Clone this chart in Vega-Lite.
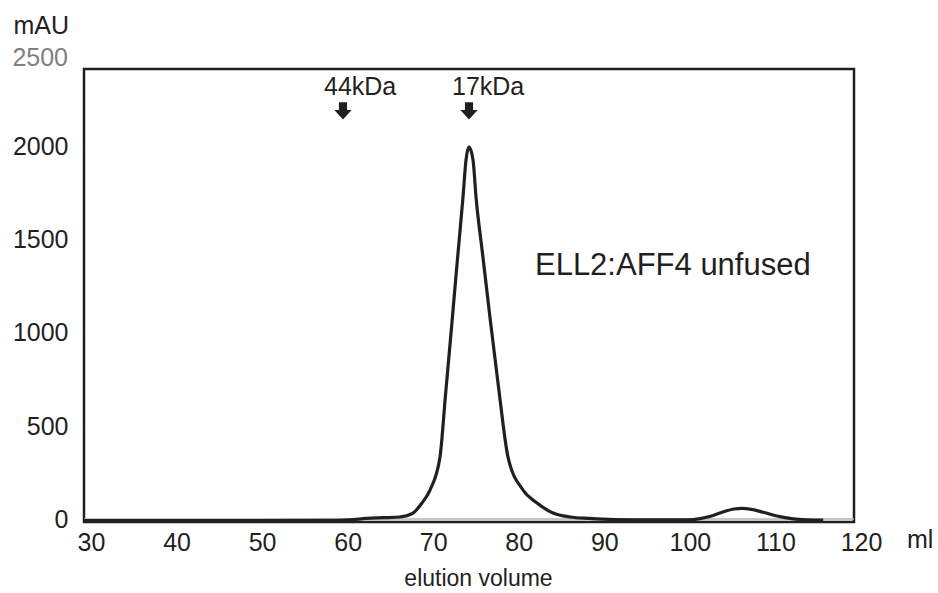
{
  "$schema": "https://vega.github.io/schema/vega-lite/v6.json",
  "width": 770,
  "height": 453,
  "autosize": {"type": "none"},
  "padding": {"left": 84, "top": 69, "right": 84, "bottom": 71},
  "background": "white",
  "config": {
    "view": {"stroke": "#231f20", "strokeWidth": 2.5},
    "font": "Liberation Sans",
    "axis": {"labelFont": "Liberation Sans", "titleFont": "Liberation Sans", "labelColor": "#231f20", "titleColor": "#231f20"}
  },
  "datasets": {
    "trace": [
      {"volume": 30, "mAU": -8},
      {"volume": 40, "mAU": -8},
      {"volume": 50, "mAU": -8},
      {"volume": 58, "mAU": -7},
      {"volume": 61, "mAU": -4},
      {"volume": 63, "mAU": 3},
      {"volume": 65, "mAU": 7},
      {"volume": 66.9, "mAU": 11},
      {"volume": 68.45, "mAU": 32},
      {"volume": 69.5, "mAU": 86},
      {"volume": 70.44, "mAU": 156},
      {"volume": 71.61, "mAU": 333},
      {"volume": 72.25, "mAU": 665},
      {"volume": 72.9, "mAU": 1000},
      {"volume": 73.6, "mAU": 1370},
      {"volume": 74.3, "mAU": 1731},
      {"volume": 74.65, "mAU": 1930},
      {"volume": 75.0, "mAU": 2000},
      {"volume": 75.47, "mAU": 1930},
      {"volume": 75.82, "mAU": 1731},
      {"volume": 76.6, "mAU": 1420},
      {"volume": 77.5, "mAU": 1065},
      {"volume": 78.5, "mAU": 690},
      {"volume": 79.56, "mAU": 333},
      {"volume": 81.31, "mAU": 156},
      {"volume": 82.95, "mAU": 86},
      {"volume": 84.82, "mAU": 32},
      {"volume": 86.8, "mAU": 11},
      {"volume": 89.1, "mAU": 3},
      {"volume": 92, "mAU": -3},
      {"volume": 96, "mAU": -5},
      {"volume": 100, "mAU": -5},
      {"volume": 101.2, "mAU": -3},
      {"volume": 103, "mAU": 12},
      {"volume": 104.5, "mAU": 35},
      {"volume": 106, "mAU": 54},
      {"volume": 106.9, "mAU": 57},
      {"volume": 108, "mAU": 52},
      {"volume": 109.5, "mAU": 35},
      {"volume": 111, "mAU": 16},
      {"volume": 112.9, "mAU": 1},
      {"volume": 114.5, "mAU": -4},
      {"volume": 116.4, "mAU": -6}
    ],
    "markers": [
      {"label": "44kDa", "volume": 60.27, "arrowY": 2194, "textX": 58.05, "textY": 2280},
      {"label": "17kDa", "volume": 75.0, "arrowY": 2194, "textX": 73.01, "textY": 2280}
    ]
  },
  "layer": [
    {
      "data": {"values": [{"mAU": 0}]},
      "mark": {"type": "rule", "color": "#b3b3b3", "strokeWidth": 1.5},
      "encoding": {"y": {"field": "mAU", "type": "quantitative"}}
    },
    {
      "data": {"name": "trace"},
      "mark": {"type": "line", "color": "#231f20", "strokeWidth": 3.2, "interpolate": "monotone"},
      "encoding": {
        "x": {
          "field": "volume", "type": "quantitative",
          "scale": {"domain": [30, 120], "nice": false, "zero": false},
          "axis": {
            "values": [30, 40, 50, 60, 70, 80, 90, 100, 110, 120],
            "format": "d",
            "title": "elution volume",
            "titleFontSize": 23, "titleFontWeight": "normal", "titlePadding": 12, "titleX": 394,
            "labelFontSize": 25, "labelPadding": 8, "labelOffset": 7,
            "labelFlush": false, "labelOverlap": false,
            "ticks": false, "domain": false, "grid": false
          }
        },
        "y": {
          "field": "mAU", "type": "quantitative",
          "scale": {"domain": [-16, 2419], "nice": false, "zero": false},
          "axis": {
            "values": [0, 500, 1000, 1500, 2000],
            "format": "d",
            "title": null,
            "labelFontSize": 25, "labelPadding": 16,
            "labelFlush": false, "labelOverlap": false,
            "ticks": false, "domain": false, "grid": false
          }
        }
      }
    },
    {
      "data": {"name": "markers"},
      "mark": {"type": "point", "filled": true, "color": "#231f20", "opacity": 1, "size": 300,
        "shape": "M-0.47,-1L0.47,-1L0.47,-0.1L1,-0.1L0,1L-1,-0.1L-0.47,-0.1Z"},
      "encoding": {
        "x": {"field": "volume", "type": "quantitative"},
        "y": {"field": "arrowY", "type": "quantitative"}
      }
    },
    {
      "data": {"name": "markers"},
      "mark": {"type": "text", "align": "left", "baseline": "alphabetic", "fontSize": 25, "color": "#231f20"},
      "encoding": {
        "x": {"field": "textX", "type": "quantitative"},
        "y": {"field": "textY", "type": "quantitative"},
        "text": {"field": "label"}
      }
    },
    {
      "data": {"values": [{"note": "ELL2:AFF4 unfused", "volume": 82.71, "mAU": 1312}]},
      "mark": {"type": "text", "align": "left", "baseline": "alphabetic", "fontSize": 31, "color": "#231f20"},
      "encoding": {"x": {"field": "volume", "type": "quantitative"}, "y": {"field": "mAU", "type": "quantitative"}, "text": {"field": "note"}}
    },
    {
      "data": {"values": [{"note": "2500", "volume": 30, "mAU": 2500}]},
      "mark": {"type": "text", "align": "right", "baseline": "middle", "fontSize": 25, "color": "#808080", "dx": -16, "dy": 4, "clip": false},
      "encoding": {"x": {"field": "volume", "type": "quantitative"}, "y": {"field": "mAU", "type": "quantitative"}, "text": {"field": "note"}}
    },
    {
      "data": {"values": [{"note": "mAU", "volume": 25.0, "mAU": 2650}]},
      "mark": {"type": "text", "align": "center", "baseline": "middle", "fontSize": 25, "color": "#231f20", "clip": false},
      "encoding": {"x": {"field": "volume", "type": "quantitative"}, "y": {"field": "mAU", "type": "quantitative"}, "text": {"field": "note"}}
    },
    {
      "data": {"values": [{"note": "ml", "volume": 126.2, "mAU": -113}]},
      "mark": {"type": "text", "align": "left", "baseline": "middle", "fontSize": 25, "color": "#231f20", "clip": false},
      "encoding": {"x": {"field": "volume", "type": "quantitative"}, "y": {"field": "mAU", "type": "quantitative"}, "text": {"field": "note"}}
    }
  ]
}
